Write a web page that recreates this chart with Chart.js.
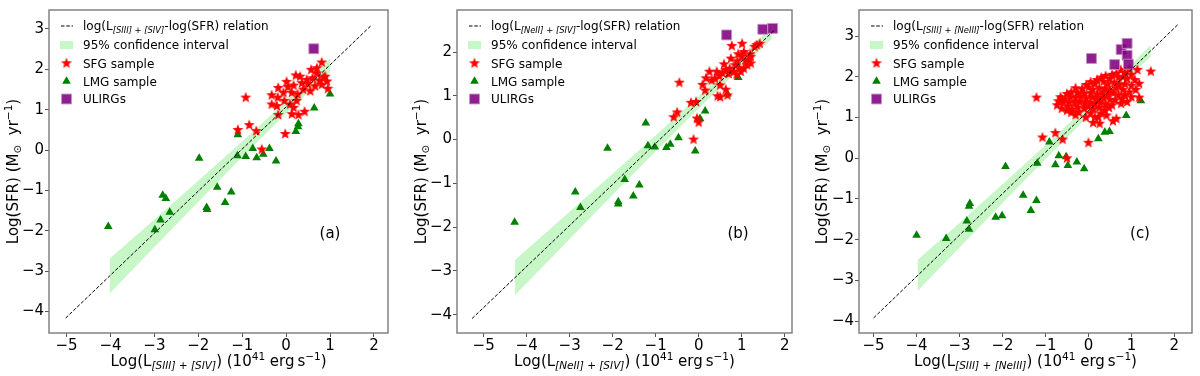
<!DOCTYPE html>
<html>
<head>
<meta charset="utf-8">
<script src="https://cdn.jsdelivr.net/npm/chart.js@4.4.1/dist/chart.umd.min.js"></script>
<style>
  html, body { margin: 0; padding: 0; background: #fff; }
  #wrap { position: relative; width: 1200px; height: 376px; }
  .panel { position: absolute; top: 0; width: 400px; height: 376px; }
</style>
</head>
<body>
<div id="wrap">
  <div class="panel" style="left:0"><canvas id="chartA" width="400" height="376"></canvas></div>
  <div class="panel" style="left:400px"><canvas id="chartB" width="400" height="376"></canvas></div>
  <div class="panel" style="left:800px"><canvas id="chartC" width="400" height="376"></canvas></div>
</div>
<script>
// tick labels
const xTicks = [-5, -4, -3, -2, -1, 0, 1, 2];
const yTicksAC = [-4, -3, -2, -1, 0, 1, 2, 3];
const yTicksB = [-4, -3, -2, -1, 0, 1, 2];

// ---- panel (a): [SIII]+[SIV]
const sfgA = [
  [0.81, 2.17], [0.57, 1.99], [0.70, 1.90], [0.89, 1.82], [0.60, 1.78], [0.76, 1.72], [0.93, 1.70],
  [0.49, 1.64], [0.66, 1.58], [0.95, 1.52], [0.32, 1.82], [0.22, 1.85], [0.39, 1.50], [0.17, 1.60],
  [0.04, 1.56], [0.13, 1.42], [0.26, 1.38], [-0.18, 1.54], [-0.33, 1.36], [-0.33, 1.13], [-0.19, 1.30],
  [-0.21, 1.09], [-0.04, 1.22], [0.09, 1.13], [0.17, 1.05], [0.13, 0.89], [0.28, 0.87], [0.42, 0.95],
  [-0.18, 0.87], [-0.02, 0.40], [-0.92, 1.30], [-1.10, 0.50], [-0.84, 0.62], [-0.68, 0.47], [-0.555, 0.015],
  [0.47, 1.74], [0.36, 1.66], [0.55, 1.46], [0.81, 1.62], [-0.06, 1.42], [0.01, 1.69], [0.85, 1.80],
  [0.70, 2.03], [0.24, 1.22]
];
const lmgA = [
  [-4.05, -1.89], [-2.99, -1.97], [-2.86, -1.73], [-2.81, -1.12], [-2.74, -1.20], [-2.65, -1.54],
  [-1.98, -0.20], [-1.57, -0.92], [-1.81, -1.42], [-1.80, -1.47], [-1.39, -1.30], [-1.25, -1.04],
  [-1.10, 0.38], [-1.11, -0.14], [-0.92, -0.16], [-0.76, 0.04], [-0.67, -0.19], [-0.52, -0.10],
  [-0.38, 0.04], [-0.23, -0.27], [0.22, 0.46], [0.28, 0.65], [0.27, 0.58], [0.64, 1.04], [1.00, 1.39]
];
const ulirgA = [[0.63, 2.51]];
const fitA = [[-5.02, -4.16], [1.95, 3.10]];
const bandXA = [-4.02, -3, -2, -1, 0, 0.5, 1.0];
const bandHiA = [-2.69, -1.72, -0.76, 0.21, 1.21, 1.73, 2.27];
const bandLoA = [-3.55, -2.40, -1.28, -0.17, 0.91, 1.43, 1.93];

// ---- panel (b): [NeII]+[SIV]
const sfgB = [
  [0.77, 2.14], [1.01, 2.19], [1.42, 2.19], [1.35, 2.16], [1.30, 2.12], [0.75, 1.85], [1.05, 2.00],
  [1.21, 1.89], [1.13, 1.70], [0.94, 1.63], [0.82, 1.55], [0.98, 1.55], [1.21, 1.74], [1.09, 1.81],
  [0.63, 1.59], [0.59, 1.72], [0.90, 1.79], [0.48, 1.45], [0.25, 1.55], [0.17, 1.40], [0.38, 1.39],
  [0.50, 1.24], [0.63, 1.14], [0.44, 0.99], [0.50, 0.97], [0.67, 1.01], [0.09, 1.25], [0.15, 1.12],
  [-0.18, 0.84], [-0.06, 0.86], [-0.50, 0.62], [-0.58, 0.51], [-0.04, 0.48], [0.00, 0.39], [-0.12, 0.00],
  [-0.45, 1.30], [1.00, 1.90], [0.85, 1.70], [1.15, 1.78], [1.05, 1.62], [0.70, 1.50], [0.55, 1.52],
  [1.20, 1.95], [0.92, 1.95], [0.88, 1.48], [0.72, 1.62], [0.30, 1.35], [0.42, 1.55]
];
const lmgB = [
  [-4.28, -1.89], [-2.87, -1.20], [-2.75, -1.55], [-2.12, -0.20], [-1.87, -1.42], [-1.87, -1.47],
  [-1.72, -0.91], [-1.52, -1.29], [-1.38, -1.04], [-1.23, 0.38], [-1.18, -0.14], [-1.02, -0.17],
  [-0.75, -0.18], [-0.66, -0.11], [-0.47, 0.04], [-0.08, -0.26], [0.03, 0.48], [0.15, 0.65],
  [0.67, 1.04], [0.92, 1.42]
];
const ulirgB = [[0.65, 2.39], [1.49, 2.52], [1.72, 2.54]];
const fitB = [[-5.27, -4.09], [1.75, 2.49]];
const bandXB = [-4.27, -3, -2, -1, 0, 1, 1.7];
const bandHiB = [-2.75, -1.65, -0.78, 0.09, 0.99, 1.92, 2.58];
const bandLoB = [-3.55, -2.27, -1.26, -0.27, 0.71, 1.66, 2.30];

// ---- panel (c): [SIII]+[NeIII]
const sfgC = [
  [-1.21, 1.49], [1.45, 2.13], [1.14, 2.17], [1.18, 1.83], [1.18, 1.49], [-0.73, 1.30], [-1.07, 0.51],
  [-0.77, 0.62], [-0.60, 0.46], [0.00, 0.38], [-0.50, 0.00], [0.76, 1.34], [0.57, 0.91], [0.65, 0.97],
  [0.11, 0.87], [0.26, 0.85], [0.23, 1.01], [-0.06, 1.00], [-0.23, 1.13], [-0.50, 1.17], [-0.62, 1.45],
  [0.75, 2.17], [0.85, 2.10], [0.95, 2.18], [1.00, 2.05], [0.65, 2.08], [0.55, 2.05],
  [0.30, 1.98], [0.40, 2.02], [0.50, 1.95], [0.70, 1.98], [0.80, 2.00], [0.90, 1.95], [1.08, 1.92], [0.20, 1.92],
  [0.05, 1.87], [0.15, 1.83], [0.35, 1.88], [0.45, 1.82], [0.60, 1.85], [0.72, 1.80], [0.85, 1.82], [1.00, 1.78], [-0.05, 1.80],
  [-0.30, 1.72], [-0.15, 1.70], [0.00, 1.74], [0.10, 1.68], [0.25, 1.72], [0.38, 1.70], [0.50, 1.66],
  [0.65, 1.72], [0.80, 1.68], [0.95, 1.62], [1.10, 1.68],
  [-0.50, 1.58], [-0.40, 1.62], [-0.25, 1.60], [-0.10, 1.58], [0.05, 1.60], [0.20, 1.56], [0.32, 1.60],
  [0.45, 1.55], [0.58, 1.60], [0.70, 1.55], [0.85, 1.55], [1.00, 1.50],
  [-0.65, 1.50], [-0.55, 1.45], [-0.42, 1.50], [-0.30, 1.48], [-0.18, 1.50], [-0.05, 1.46], [0.08, 1.50],
  [0.20, 1.45], [0.35, 1.48], [0.50, 1.44], [0.62, 1.42], [0.78, 1.45],
  [-0.70, 1.40], [-0.58, 1.36], [-0.45, 1.38], [-0.32, 1.35], [-0.20, 1.38], [-0.08, 1.34], [0.05, 1.37],
  [0.15, 1.33], [0.28, 1.36], [0.40, 1.32], [0.55, 1.30], [0.90, 1.38],
  [-0.62, 1.22], [-0.48, 1.27], [-0.38, 1.20], [-0.25, 1.25], [-0.10, 1.22], [0.00, 1.27], [0.12, 1.20],
  [0.25, 1.24], [0.38, 1.18], [0.48, 1.24],
  [-0.40, 1.12], [-0.30, 1.06], [0.05, 1.10], [0.30, 1.10], [0.42, 1.05], [0.15, 1.00]
];
const lmgC = [
  [-4.00, -1.89], [-3.31, -1.97], [-2.83, -1.54], [-2.78, -1.74], [-2.78, -1.18], [-2.76, -1.11],
  [-2.16, -1.45], [-2.01, -1.41], [-1.93, -0.20], [-1.52, -0.91], [-1.34, -1.28], [-1.21, -1.04],
  [-1.19, -0.12], [-0.91, 0.40], [-0.77, -0.16], [-0.69, 0.06], [-0.52, 0.04], [-0.48, -0.18],
  [-0.27, -0.09], [-0.10, -0.26], [0.23, 0.48], [0.38, 0.64], [0.49, 0.66], [0.88, 1.05], [1.22, 1.41]
];
const ulirgC = [[0.07, 2.45], [0.61, 2.30], [0.76, 2.67], [0.90, 2.82], [0.90, 2.53], [0.93, 2.31]];
const fitC = [[-5.00, -3.92], [2.08, 3.28]];
const bandXC = [-3.98, -3, -2, -1, 0, 1, 1.45];
const bandHiC = [-2.50, -1.59, -0.64, 0.32, 1.30, 2.31, 2.78];
const bandLoC = [-3.26, -2.19, -1.10, -0.02, 1.04, 2.05, 2.50];

const FONT = '"DejaVu Sans", sans-serif';
const BAND = 'rgba(144, 238, 144, 0.5)';
const PURPLE = 'rgba(128, 0, 128, 0.88)';
const PURPLE_EDGE = 'rgba(200, 140, 200, 0.9)';
const DASH = [3.5, 1.8];

const toXY = arr => arr.map(([x, y]) => ({x, y}));
const zipXY = (xs, ys) => xs.map((x, i) => ({x, y: ys[i]}));
const minus = v => String(v).replace('-', '\u2212');

function makeStar(rOut, rIn, color) {
  const s = 14;
  const c = document.createElement('canvas');
  c.width = s; c.height = s;
  const g = c.getContext('2d');
  g.beginPath();
  for (let i = 0; i < 10; i++) {
    const r = i % 2 ? rIn : rOut;
    const ang = -Math.PI / 2 + i * Math.PI / 5;
    g.lineTo(s / 2 + r * Math.cos(ang), s / 2 + r * Math.sin(ang));
  }
  g.closePath();
  g.fillStyle = color;
  g.fill();
  return c;
}
const star = makeStar(5.8, 2.4, '#ff0000');

// text with sub/superscripts: parts = [[text, kind]], kind n | sub | isub | sup
function drawRich(ctx, parts, x, y, size, align) {
  let w = 0;
  const spec = parts.map(([t, k]) => {
    const s = k === 'n' ? size : size * 0.7;
    const font = (k === 'isub' ? 'italic ' : '') + s + 'px ' + FONT;
    ctx.font = font;
    const tw = ctx.measureText(t).width;
    w += tw;
    const dy = k === 'sup' ? -size * 0.4 : (k === 'n' ? 0 : size * 0.22);
    return {t, font, tw, dy};
  });
  let cx = align === 'center' ? x - w / 2 : x;
  ctx.textAlign = 'left';
  ctx.textBaseline = 'alphabetic';
  spec.forEach(p => {
    ctx.font = p.font;
    ctx.fillText(p.t, cx, y + p.dy);
    cx += p.tw;
  });
}

function decor(p) {
  return {
    id: 'decor',
    afterDraw(chart) {
      const {ctx, chartArea: a} = chart;
      ctx.save();
      ctx.fillStyle = '#000';

      // frame
      ctx.strokeStyle = '#7a7a7a';
      ctx.lineWidth = 1.4;
      ctx.strokeRect(a.left, a.top, a.right - a.left, a.bottom - a.top);

      // legend
      const rows = [16, 35, 53.3, 71.3, 89].map(d => a.top + d);
      const sx = a.left + 17.5;
      ctx.strokeStyle = '#000';
      ctx.lineWidth = 1;
      ctx.setLineDash(DASH);
      ctx.beginPath();
      ctx.moveTo(a.left + 12, rows[0]);
      ctx.lineTo(a.left + 24, rows[0]);
      ctx.stroke();
      ctx.setLineDash([]);
      ctx.fillStyle = BAND;
      ctx.fillRect(a.left + 11, rows[1] - 4, 13, 8);
      ctx.drawImage(star, sx - 7, rows[2] - 7);
      ctx.fillStyle = 'green';
      Chart.helpers.drawPoint(ctx, {pointStyle: 'triangle', radius: 5, rotation: 0, borderWidth: 0}, sx, rows[3]);
      ctx.fillStyle = PURPLE;
      ctx.strokeStyle = PURPLE_EDGE;
      Chart.helpers.drawPoint(ctx, {pointStyle: 'rect', radius: 7, rotation: 0, borderWidth: 1}, sx, rows[4]);

      ctx.fillStyle = '#000';
      const tx = a.left + 34;
      drawRich(ctx, [['log(L', 'n'], [p.sub, 'isub'], ['-log(SFR) relation', 'n']], tx, rows[0] + 4.3, 12, 'left');
      drawRich(ctx, [['95% confidence interval', 'n']], tx, rows[1] + 4.3, 12, 'left');
      drawRich(ctx, [['SFG sample', 'n']], tx, rows[2] + 4.3, 12, 'left');
      drawRich(ctx, [['LMG sample', 'n']], tx, rows[3] + 4.3, 12, 'left');
      drawRich(ctx, [['ULIRGs', 'n']], tx, rows[4] + 4.3, 12, 'left');

      // panel letter
      ctx.font = '15px ' + FONT;
      ctx.textAlign = 'center';
      ctx.textBaseline = 'middle';
      ctx.fillText(p.letter, p.letterX, 234);

      // axis titles
      drawRich(ctx, [['Log(L', 'n'], [p.sub, 'isub'], [') (10', 'n'], ['41', 'sup'], [' erg\u2009s', 'n'], ['\u22121', 'sup'], [')', 'n']],
        (a.left + a.right) / 2, 366, 15, 'center');
      ctx.save();
      ctx.translate(p.yTitleX, (a.top + a.bottom) / 2);
      ctx.rotate(-Math.PI / 2);
      drawRich(ctx, [['Log(SFR) (M', 'n'], ['\u2299', 'sub'], ['  yr', 'n'], ['\u22121', 'sup'], [')', 'n']], 0, 5.5, 15, 'center');
      ctx.restore();

      ctx.restore();
    }
  };
}

function makePanel(id, p) {
  const tickFont = {family: FONT, size: 15};
  const config = {
    type: 'scatter',
    data: {
      datasets: [
        {type: 'line', data: zipXY(p.bandX, p.bandHi), borderColor: 'rgba(0,0,0,0)', borderWidth: 0,
          pointRadius: 0, fill: '+1', backgroundColor: BAND, order: 3},
        {type: 'line', data: zipXY(p.bandX, p.bandLo), borderColor: 'rgba(0,0,0,0)', borderWidth: 0,
          pointRadius: 0, fill: false, order: 3},
        {data: toXY(p.sfg), pointStyle: star, pointRadius: 6, order: 2},
        {data: toXY(p.lmg), pointStyle: 'triangle', pointRadius: 5, backgroundColor: 'green',
          borderWidth: 0, order: 2},
        {data: toXY(p.ulirg), pointStyle: 'rect', pointRadius: 7, backgroundColor: PURPLE,
          borderColor: PURPLE_EDGE, borderWidth: 1, order: 1},
        {type: 'line', data: toXY(p.fit), borderColor: '#000', borderWidth: 1, borderDash: DASH,
          pointRadius: 0, fill: false, order: 0}
      ]
    },
    options: {
      responsive: false,
      animation: false,
      events: [],
      layout: {padding: {left: 0, right: p.padRight, top: 4, bottom: 0}},
      plugins: {legend: {display: false}, tooltip: {enabled: false}},
      scales: {
        x: {
          type: 'linear', min: p.xMin, max: p.xMax,
          afterBuildTicks: s => { s.ticks = xTicks.map(v => ({value: v})); },
          afterFit: s => { s.height = 43; },
          border: {display: false},
          grid: {drawOnChartArea: false, drawTicks: true, tickLength: 4, tickColor: '#555'},
          ticks: {font: tickFont, color: '#000', padding: 0, maxRotation: 0, callback: minus}
        },
        y: {
          type: 'linear', min: p.yMin, max: p.yMax,
          afterBuildTicks: s => { s.ticks = p.yTicks.map(v => ({value: v})); },
          afterFit: s => { s.width = p.plotLeft; },
          border: {display: false},
          grid: {drawOnChartArea: false, drawTicks: true, tickLength: 4, tickColor: '#555'},
          ticks: {font: tickFont, color: '#000', padding: 1, callback: minus}
        }
      }
    },
    plugins: [decor(p)]
  };
  return new Chart(document.getElementById(id), config);
}

makePanel('chartA', {
  sfg: sfgA, lmg: lmgA, ulirg: ulirgA, fit: fitA, bandX: bandXA, bandHi: bandHiA, bandLo: bandLoA,
  xMin: -5.40, xMax: 2.32, yMin: -4.53, yMax: 3.47, yTicks: yTicksAC,
  plotLeft: 49, padRight: 12, yTitleX: 12, letter: '(a)', letterX: 330,
  sub: '[SIII] + [SIV]'
});
makePanel('chartB', {
  sfg: sfgB, lmg: lmgB, ulirg: ulirgB, fit: fitB, bandX: bandXB, bandHi: bandHiB, bandLo: bandLoB,
  xMin: -5.62, xMax: 2.17, yMin: -4.42, yMax: 2.96, yTicks: yTicksB,
  plotLeft: 57, padRight: 5, yTitleX: 20, letter: '(b)', letterX: 338,
  sub: '[NeII] + [SIV]'
});
makePanel('chartC', {
  sfg: sfgC, lmg: lmgC, ulirg: ulirgC, fit: fitC, bandX: bandXC, bandHi: bandHiC, bandLo: bandLoC,
  xMin: -5.34, xMax: 2.41, yMin: -4.29, yMax: 3.64, yTicks: yTicksAC,
  plotLeft: 59, padRight: 3, yTitleX: 21.5, letter: '(c)', letterX: 340,
  sub: '[SIII] + [NeIII]'
});
</script>
</body>
</html>
